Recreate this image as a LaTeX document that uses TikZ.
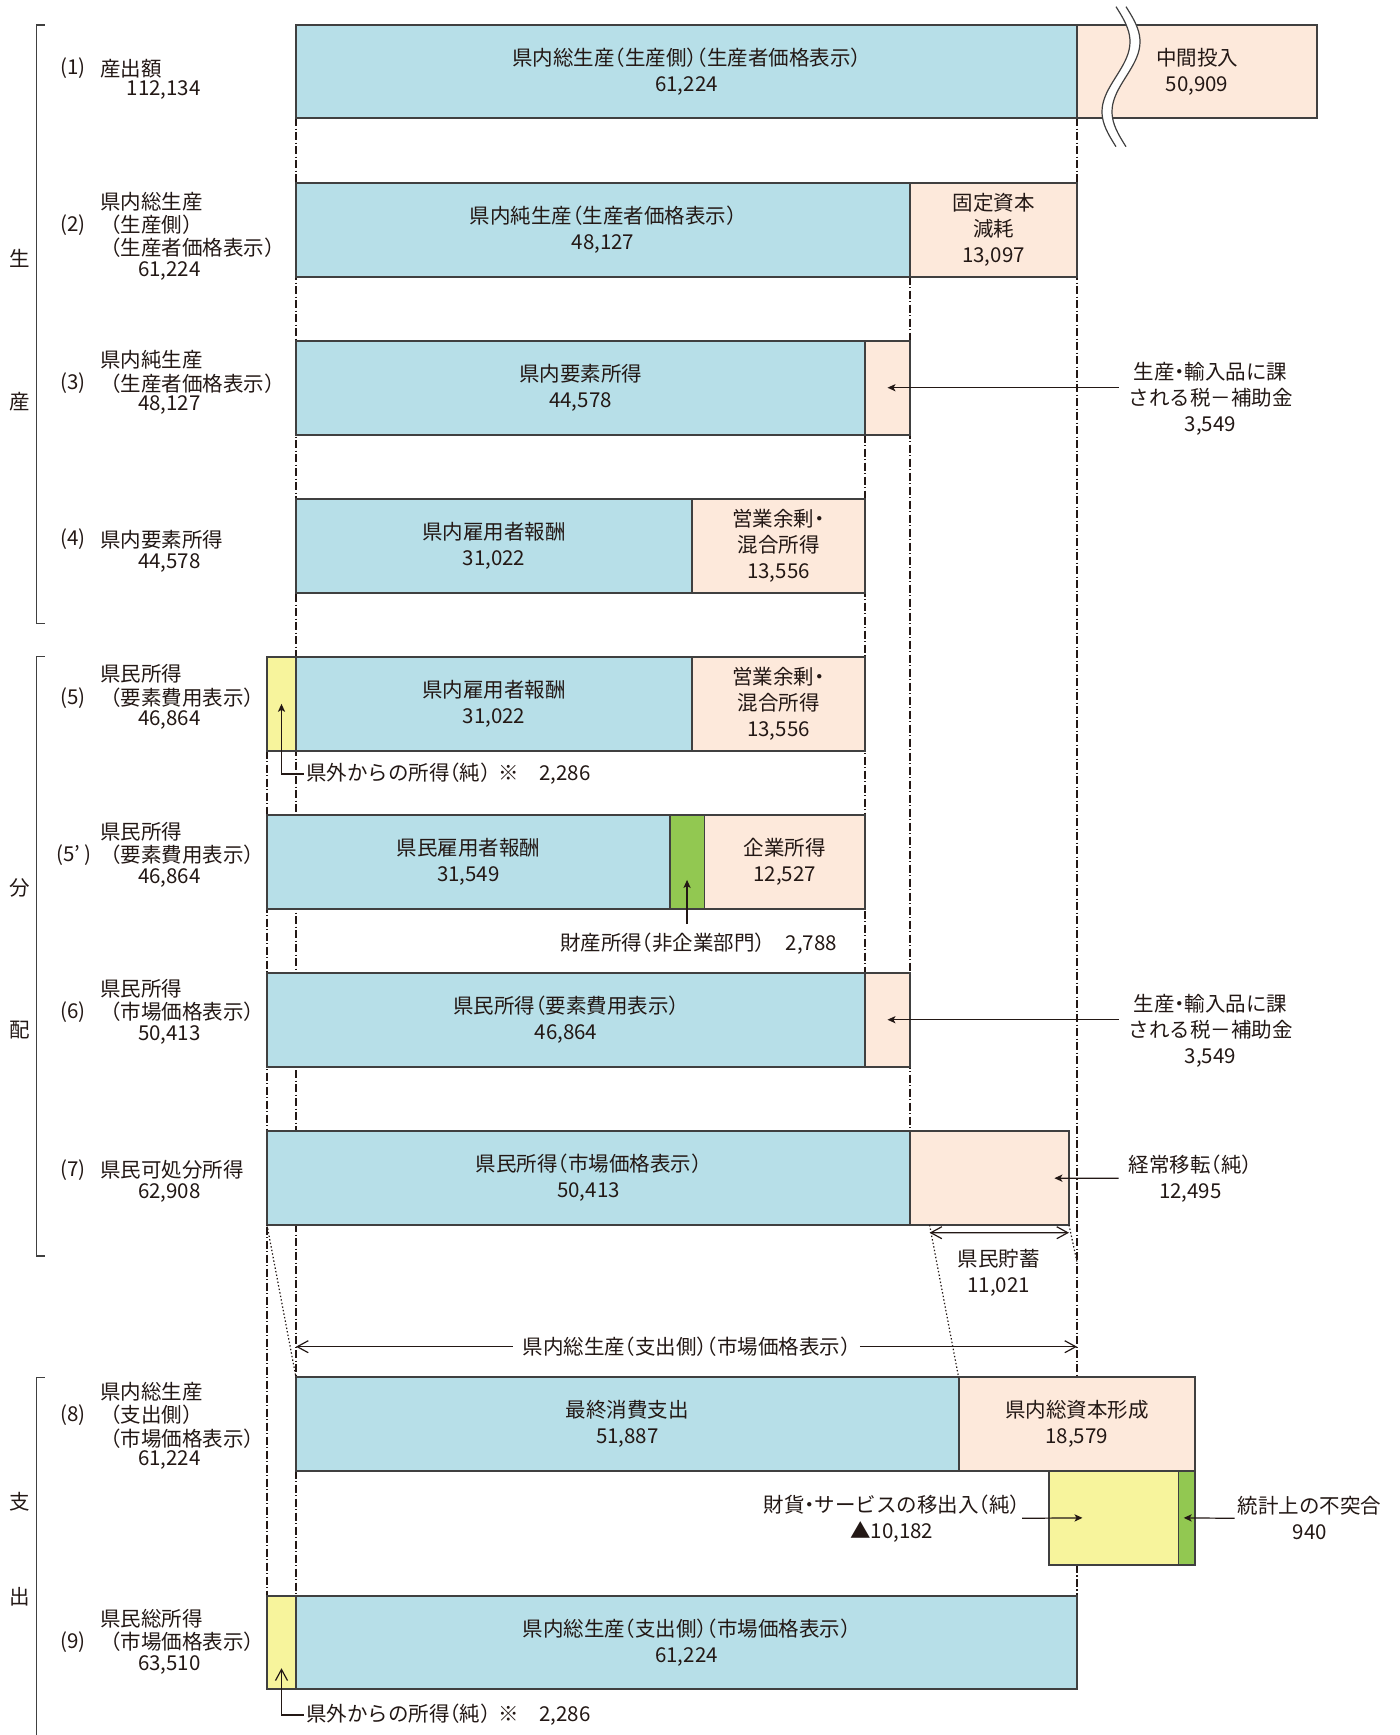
\documentclass[tikz,border=0pt]{standalone}
\usepackage{fontspec}
\setmainfont{Noto Sans CJK JP}
\newfontfamily\hw[RawFeature=+halt]{Noto Sans CJK JP}
\usetikzlibrary{arrows.meta,calc}

\definecolor{cblue}{HTML}{B7DFE8}
\definecolor{cpeach}{HTML}{FDE9DB}
\definecolor{cyellow}{HTML}{F7F49C}
\definecolor{cgreen}{HTML}{92C851}
\definecolor{edge}{HTML}{404040}
\definecolor{ink}{HTML}{231815}

% one coloured block of a bar: name, x1, y1, x2, y2, fill, text
\newcommand\bx[7]{\node[box,fill=#6,minimum width={(#4-#2)*0.5pt},minimum height={(#5-#3)*0.5pt}] (#1) at ({(#2+#4)/2},{(#3+#5)/2}) {#7};}

\tikzset{
  box/.style={draw=edge, line width=0.9pt, inner sep=0pt, outer sep=0pt, align=center, text=ink,
    font=\fontsize{10.25pt}{13pt}\selectfont\hw},
  txt/.style={inner sep=0pt, text=ink, font=\fontsize{10.25pt}{13pt}\selectfont},
  hwtxt/.style={inner sep=0pt, text=ink, align=center, font=\fontsize{10.25pt}{13pt}\selectfont\hw},
  lab/.style={txt, anchor=west},
  num/.style={txt, anchor=east},
  dd/.style={draw=ink, line width=0.6pt, dash pattern=on 4pt off 1.2pt on 0.6pt off 1.2pt},
  dots/.style={draw=ink, line width=0.6pt, dash pattern=on 0.7pt off 1.1pt},
  brk/.style={draw=edge, line width=0.6pt},
  sarr/.style={draw=ink, line width=0.6pt, -{Stealth[length=4pt,width=3.6pt,inset=1pt]}},
  rbarb/.style={draw=ink, line width=0.6pt, -{Straight Barb[length=5.5pt,width=6pt]}},
  lbarb/.style={draw=ink, line width=0.6pt, {Straight Barb[length=5.5pt,width=6pt]}-},
  dbarb/.style={draw=ink, line width=0.6pt, {Straight Barb[length=5.5pt,width=6pt]}-{Straight Barb[length=5.5pt,width=6pt]}},
}

\begin{document}
\begin{tikzpicture}[x=0.5pt,y=-0.5pt]
\fill[white] (0,0) rectangle (1399,1735);
\useasboundingbox (0,0) rectangle (1399,1735);

% guide lines between the bars
\draw[dd] (296,118.3) -- (296,1377.3);
\draw[dd] (296,1470.7) -- (296,1596);
\draw[dd] (267,750.7) -- (267,1596);
\draw[dd] (1077,118.3) -- (1077,1377.3);
\draw[dd] (1077,1565) -- (1077,1596);
\draw[dd] (910,276.7) -- (910,1131.3);
\draw[dd] (865,434.7) -- (865,972.7);

% section brackets
\draw[brk] (44.6,25) -- (36.6,25) -- (36.6,623.3) -- (44.6,623.3);
\draw[brk] (44.6,656.7) -- (36.6,656.7) -- (36.6,1256) -- (44.6,1256);
\draw[brk] (44.6,1377.3) -- (36.6,1377.3) -- (36.6,1735);
\node[txt] (s1) at (20,258.3) {生};
\node[txt] (s2) at (20,401.7) {産};
\node[txt] (s3) at (20,888.3) {分};
\node[txt] (s4) at (20,1030) {配};
\node[txt] (s5) at (20,1502) {支};
\node[txt] (s6) at (20,1596.7) {出};

% bars
\bx{r1b}{296}{25}{1077}{118.3}{cblue}{県内総生産（生産側）（生産者価格表示）\\61,224}
\bx{r1p}{1077}{25}{1317}{118.3}{cpeach}{中間投入\\50,909}
\bx{r2b}{296}{182.7}{910}{276.7}{cblue}{県内純生産（生産者価格表示）\\48,127}
\bx{r2p}{910}{182.7}{1077}{276.7}{cpeach}{固定資本\\減耗\\13,097}
\bx{r3b}{296}{340.7}{865}{434.7}{cblue}{県内要素所得\\44,578}
\bx{r3p}{865}{340.7}{910}{434.7}{cpeach}{}
\bx{r4b}{296}{499.3}{692}{593.3}{cblue}{県内雇用者報酬\\31,022}
\bx{r4p}{692}{499.3}{865}{593.3}{cpeach}{営業余剰・\\混合所得\\13,556}
\bx{r5y}{267}{657}{296}{750.7}{cyellow}{}
\bx{r5b}{296}{657}{692}{750.7}{cblue}{県内雇用者報酬\\31,022}
\bx{r5p}{692}{657}{865}{750.7}{cpeach}{営業余剰・\\混合所得\\13,556}
\bx{q5b}{267}{815.3}{669.6}{909}{cblue}{県民雇用者報酬\\31,549}
\bx{q5g}{669.6}{815.3}{704.5}{909}{cgreen}{}
\bx{q5p}{704.5}{815.3}{865}{909}{cpeach}{企業所得\\12,527}
\bx{r6b}{267}{972.7}{865}{1066.7}{cblue}{県民所得（要素費用表示）\\46,864}
\bx{r6p}{865}{972.7}{910}{1066.7}{cpeach}{}
\bx{r7b}{267}{1131.3}{910}{1225}{cblue}{県民所得（市場価格表示）\\50,413}
\bx{r7p}{910}{1131.3}{1069}{1225}{cpeach}{}
\bx{r8b}{296}{1377.3}{958.6}{1470.7}{cblue}{最終消費支出\\51,887}
\bx{r8p}{958.6}{1377.3}{1195}{1470.7}{cpeach}{県内総資本形成\\18,579}
\bx{nxy}{1049}{1470.7}{1178.4}{1565}{cyellow}{}
\bx{nxg}{1178.4}{1470.7}{1195}{1565}{cgreen}{}
\bx{r9y}{267}{1596}{296}{1689.3}{cyellow}{}
\bx{r9b}{296}{1596}{1077}{1689.3}{cblue}{県内総生産（支出側）（市場価格表示）\\61,224}

% break mark across the intermediate input bar
\fill[white] plot[domain=0:1,samples=40,smooth] ({1116+14*sin(360*\x)},{6.7+140*\x})
  -- plot[domain=0:1,samples=40,smooth] ({1126+14*sin(360*(1-\x))},{6.7+140*(1-\x)}) -- cycle;
\draw[edge, line width=0.6pt] plot[domain=0:1,samples=40,smooth] ({1116+14*sin(360*\x)},{6.7+140*\x});
\draw[edge, line width=0.6pt] plot[domain=0:1,samples=40,smooth] ({1126+14*sin(360*\x)},{6.7+140*\x});

% row labels
\node[lab] (l1n) at (60,68.3) {(1)};
\node[lab] (l1a) at (100,68.3) {産出額};
\node[num] (l1v) at (201,90) {112,134};

\node[lab] (l2a) at (100,201.7) {県内総生産};
\node[lab] (l2n) at (60,225) {(2)};
\node[lab] (l2b) at (100,225) {（生産側）};
\node[lab] (l2c) at (100,248) {（生産者価格表示）};
\node[num] (l2v) at (201,270.7) {61,224};

\node[lab] (l3a) at (100,360) {県内純生産};
\node[lab] (l3n) at (60,383.3) {(3)};
\node[lab] (l3b) at (100,383.3) {（生産者価格表示）};
\node[num] (l3v) at (201,405) {48,127};

\node[lab] (l4n) at (60,539.3) {(4)};
\node[lab] (l4a) at (100,539.3) {県内要素所得};
\node[num] (l4v) at (201,563.3) {44,578};

\node[lab] (l5a) at (100,673.3) {県民所得};
\node[lab] (l5n) at (60,697.7) {(5)};
\node[lab] (l5b) at (100,697.7) {（要素費用表示）};
\node[num] (l5v) at (201,720) {46,864};

\node[lab] (m5a) at (100,831.7) {県民所得};
\node[lab] (m5n) at (56,855) {(5'\kern2pt)};
\node[lab] (m5b) at (100,855) {（要素費用表示）};
\node[num] (m5v) at (201,878.3) {46,864};

\node[lab] (l6a) at (100,988.3) {県民所得};
\node[lab] (l6n) at (60,1011.7) {(6)};
\node[lab] (l6b) at (100,1011.7) {（市場価格表示）};
\node[num] (l6v) at (201,1035) {50,413};

\node[lab] (l7n) at (60,1170) {(7)};
\node[lab] (l7a) at (100,1170) {県民可処分所得};
\node[num] (l7v) at (201,1193.3) {62,908};

\node[lab] (l8a) at (100,1391.7) {県内総生産};
\node[lab] (l8n) at (60,1415) {(8)};
\node[lab] (l8b) at (100,1415) {（支出側）};
\node[lab] (l8c) at (100,1438.3) {（市場価格表示）};
\node[num] (l8v) at (201,1460) {61,224};

\node[lab] (l9a) at (100,1618.3) {県民総所得};
\node[lab] (l9n) at (60,1641.7) {(9)};
\node[lab] (l9b) at (100,1641.7) {（市場価格表示）};
\node[num] (l9v) at (201,1665) {63,510};

% taxes on production and imports less subsidies
\node[hwtxt, inner xsep=4.75pt] (tax1) at (1210.5,398.5) {生産・輸入品に課\\される税－補助金\\3,549};
\draw[sarr] (tax1.west |- r3p.center) -- (r3p.center);
\node[hwtxt, inner xsep=4.75pt] (tax2) at (1210.5,1030.7) {生産・輸入品に課\\される税－補助金\\3,549};
\draw[sarr] (tax2.west |- r6p.center) -- (r6p.center);

% net income from outside the prefecture
\node[hwtxt, anchor=west, inner sep=1pt] (ext1) at (303.6,774) {県外からの所得（純）\kern4pt※　2,286};
\draw[sarr] (ext1.west) -| (r5y.center);
\node[hwtxt, anchor=west, inner sep=1pt] (ext2) at (303.6,1715) {県外からの所得（純）\kern4pt※　2,286};
\draw[rbarb] (ext2.west) -| ($(r9y.center)+(0,25.6)$);

% property income
\node[hwtxt, inner xsep=0pt, inner ysep=4pt] (prop) at (698.5,943.3) {財産所得（非企業部門）　2,788};
\draw[sarr] (prop.north -| q5g.center) -- ($(q5g.center)+(0,17.8)$);

% current transfers and savings
\node[hwtxt, inner xsep=5pt] (ctr) at (1190.4,1178.3) {経常移転（純）\\12,495};
\draw[sarr] (ctr.west) -- ([xshift=-7.3pt]r7p.east);
\coordinate (svL) at (929.6,1225);
\coordinate (svR) at (r7p.south east);
\draw[dbarb] ([yshift=-3.85pt]svL) -- ([yshift=-3.85pt]svR);
\node[hwtxt] (sav) at (998.7,1273.3) {県民貯蓄\\11,021};
\draw[dots] (r7b.south west) -- (r8b.north west);
\draw[dots] (svL) -- (r8b.north east);
\draw[dots] (svR) -- (1077,1262);

% gross prefectural product, expenditure side
\node[hwtxt, inner xsep=4.5pt] (gdpe) at (686.5,1346.7) {県内総生産（支出側）（市場価格表示）};
\draw[lbarb] (r8b.north west |- gdpe.center) -- (gdpe.west);
\draw[rbarb] (gdpe.east) -- (r1b.south east |- gdpe.center);

% net exports and statistical discrepancy
\node[hwtxt, inner xsep=1pt] (nxl) at (891.7,1518.3) {財貨・サービスの移出入（純）\\▲10,182};
\draw[sarr] (nxl.east) -- ($(nxy.west)+(33.5,0)$);
\node[hwtxt, inner xsep=1.5pt] (dis) at (1309.7,1518.3) {統計上の不突合\\940};
\draw[sarr] (dis.west) -- ($(nxg.west)+(5.3,0)$);
\end{tikzpicture}
\end{document}
